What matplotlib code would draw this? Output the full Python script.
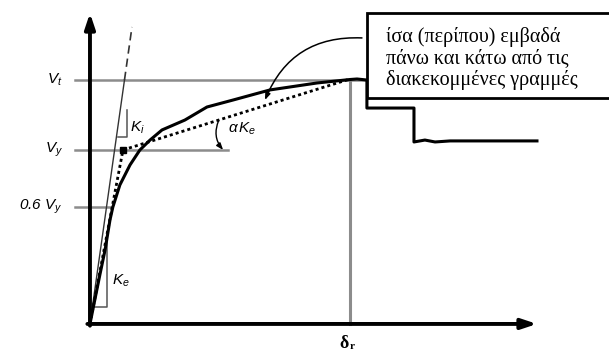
import matplotlib
matplotlib.use("Agg")
import matplotlib.pyplot as plt
from matplotlib.patches import Rectangle

plt.rcParams['font.family'] = ['Liberation Sans', 'DejaVu Sans']
plt.rcParams['mathtext.fontset'] = 'custom'
plt.rcParams['mathtext.it'] = 'Liberation Sans:italic'
plt.rcParams['mathtext.rm'] = 'Liberation Sans'

# capacity curve: displacement (delta / delta_r) vs base shear (V / V_y)
curve_d = [0, 0.038, 0.058, 0.077, 0.088, 0.115, 0.154, 0.192, 0.231, 0.277,
           0.365, 0.45, 0.55, 0.692, 0.873, 1.0, 1.027, 1.065, 1.065, 1.246,
           1.246, 1.288, 1.327, 1.385, 1.719]
curve_v = [0, 0.282, 0.425, 0.598, 0.672, 0.799, 0.914, 1.0, 1.057, 1.115,
           1.172, 1.247, 1.287, 1.345, 1.385, 1.405, 1.408, 1.402, 1.241, 1.241,
           1.046, 1.057, 1.046, 1.052, 1.052]

# idealised bilinear curve (dotted)
bilin_d = [0, 0.127, 1.0]
bilin_v = [0, 1.0, 1.408]

# initial stiffness line
init_d = [0, 0.1327, 0.1615]
init_v = [0, 1.402, 1.707]

V_t = 1.402
V_y = 1.0
V_06 = 0.672
delta_r = 1.0

fig = plt.figure(figsize=(6.09, 3.53), dpi=100)
ax = fig.add_axes([0, 0, 1, 1])
ax.set_xlim(-0.346, 1.996)
ax.set_ylim(-0.167, 1.862)
ax.axis('off')

gray = '#8c8c8c'
# reference lines
ax.plot([-0.058, 1.065], [V_t, V_t], color=gray, lw=1.8, zorder=1)
ax.plot([-0.058, 0.531], [V_y, V_y], color=gray, lw=1.8, zorder=1)
ax.plot([-0.058, 0.085], [V_06, V_06], color=gray, lw=1.8, zorder=1)
ax.plot([delta_r, delta_r], [0, V_t], color=gray, lw=2.2, zorder=1)

# stiffness triangles
ax.plot([0.108, 0.142, 0.142], [1.075, 1.075, 1.230], color='#555555', lw=1.1, zorder=2)
ax.plot([0.0115, 0.065, 0.065], [0.098, 0.098, 0.511], color='#555555', lw=1.1, zorder=2)

# initial stiffness
ax.plot(init_d[:2], init_v[:2], color='#333333', lw=1.0, zorder=2)
ax.plot(init_d[1:], init_v[1:], color='#333333', lw=1.2, ls=(0, (5, 3)), zorder=2)

# curves
ax.plot(curve_d, curve_v, color='black', lw=2.2, zorder=3)
ax.plot(bilin_d, bilin_v, color='black', lw=2.0, ls=(0, (1.1, 1.1)), zorder=3)
ax.plot([bilin_d[1]], [bilin_v[1]], marker='s', ms=4, color='black', zorder=4)

# axes with arrows
ax.annotate('', xy=(0, 1.787), xytext=(0, -0.01),
            arrowprops=dict(arrowstyle='-|>,head_length=0.9,head_width=0.3',
                            lw=2.8, color='black', shrinkA=0, shrinkB=0), zorder=5)
ax.annotate('', xy=(1.719, 0), xytext=(-0.01, 0),
            arrowprops=dict(arrowstyle='-|>,head_length=0.9,head_width=0.3',
                            lw=2.8, color='black', shrinkA=0, shrinkB=0), zorder=5)

# angle marker alpha K_e
ax.annotate('', xy=(0.512, 1.0), xytext=(0.495, 1.17),
            arrowprops=dict(arrowstyle='-|>,head_length=0.4,head_width=0.15', lw=1.0,
                            color='black', shrinkA=0, shrinkB=0,
                            connectionstyle='arc3,rad=0.3'))
ax.text(0.531, 1.12, r'$\alpha\,K_e$', fontsize=11, ha='left', va='center')

# labels
ax.text(-0.105, V_t, r'$V_t$', fontsize=11, ha='right', va='center')
ax.text(-0.105, V_y, r'$V_y$', fontsize=11, ha='right', va='center')
ax.text(-0.105, V_06, r'0.6 $V_y$', fontsize=11, ha='right', va='center', style='italic')
ax.text(0.155, 1.13, r'$K_i$', fontsize=11, ha='left', va='center')
ax.text(0.085, 0.25, r'$K_e$', fontsize=11, ha='left', va='center')
ax.text(0.995, -0.11, 'δ', fontsize=13, family='Liberation Serif', weight='bold',
        ha='right', va='center')
ax.text(1.0, -0.13, 'r', fontsize=8, family='Liberation Serif', weight='bold',
        ha='left', va='center')

# note box
ax.add_patch(Rectangle((1.065, 1.299), 1.0, 0.488, facecolor='white', edgecolor='black',
                       lw=2.0, zorder=6))
ax.text(1.138, 1.525, 'ίσα (περίπου) εμβαδά\nπάνω και κάτω από τις\nδιακεκομμένες γραμμές',
        fontsize=14.5, family='Liberation Serif', ha='left', va='center',
        linespacing=1.15, zorder=7)
ax.annotate('', xy=(0.673, 1.287), xytext=(1.046, 1.644),
            arrowprops=dict(arrowstyle='-|>,head_length=0.4,head_width=0.15', lw=1.1,
                            color='black', shrinkA=0, shrinkB=0,
                            connectionstyle='arc3,rad=0.35'), zorder=5)

fig.savefig('out.png', dpi=100)
